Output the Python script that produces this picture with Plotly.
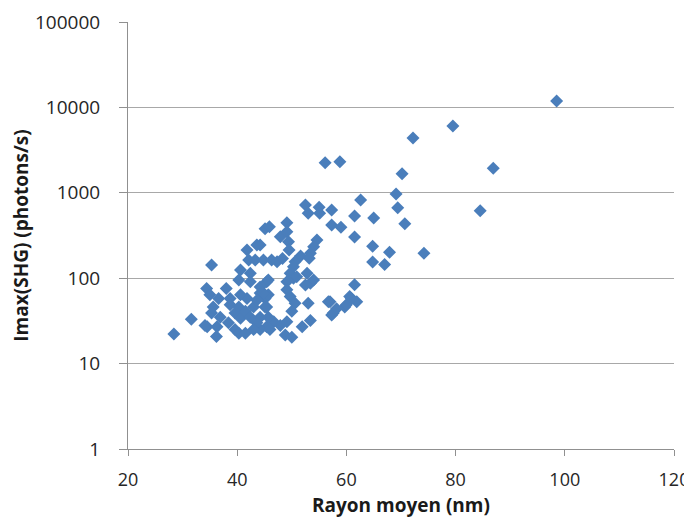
import plotly.graph_objects as go

# Rayon moyen (nm)
rayon = [
    98.5, 79.5, 86.9, 84.5, 72.2, 58.8, 56.1, 70.2, 62.6, 69.1,
    69.4, 57.3, 61.5, 65.0, 70.7, 57.3, 59.0, 61.5, 64.8, 67.9,
    74.2, 64.8, 67.0, 61.5, 61.9, 60.6, 59.7, 57.6, 57.0, 52.5,
    53.0, 55.0, 55.1, 45.1, 45.9, 49.1, 47.9, 49.1, 49.4, 49.5,
    54.6, 54.0, 53.4, 51.6, 53.2, 50.6, 50.3, 49.7, 50.3, 50.9,
    49.1, 52.8, 53.4, 54.0, 52.5, 49.1, 49.7, 50.6, 50.0, 53.0,
    56.7, 57.3, 58.2, 60.0, 60.9, 53.4, 51.9, 49.1, 48.8, 50.0,
    46.7, 45.4, 45.7, 44.2, 45.1, 45.7, 45.4, 44.2, 45.1, 44.2,
    44.8, 46.3, 47.3, 28.4, 31.6, 35.3, 36.2, 34.4, 38.0, 35.0,
    34.5, 35.3, 35.6, 36.6, 36.9, 38.7, 38.7, 38.4, 39.6, 40.3,
    39.6, 40.3, 41.5, 40.6, 41.5, 41.8, 40.6, 40.3, 40.6, 42.4,
    42.4, 41.8, 43.6, 42.1, 43.3, 45.7, 44.8, 44.2, 45.4, 44.2,
    43.6, 43.0, 46.0, 42.4, 43.0, 43.6, 36.3, 34.1, 47.9, 48.3,
]

# Imax(SHG) (photons/s)
imax = [
    11900, 6060, 1937, 617, 4385, 2312, 2250, 1675, 824, 968,
    669, 629, 535, 507, 435, 420, 394, 304, 236, 201,
    196, 155, 145, 84, 53, 61, 46, 39, 53, 719,
    575, 676, 575, 380, 400, 446, 306, 350, 268, 214,
    280, 234, 196, 182, 171, 156, 136, 114, 100, 104,
    91, 114, 87, 95, 83, 73, 61, 51, 41, 51,
    53, 37, 44, 49, 58, 32, 27, 31, 21.6, 20.3,
    31, 27, 35, 25, 58, 64, 91, 67, 46, 245,
    163, 163, 156, 22.2, 33, 143, 20.7, 76, 76, 64,
    27, 39, 46, 58, 35, 58, 49, 30, 39, 46,
    25, 22.6, 22.6, 34, 41, 58, 64, 95, 125, 114,
    91, 214, 245, 163, 163, 95, 67, 79, 46, 35,
    30, 25, 25, 35, 46, 55, 27, 28, 28, 170,
]

x_ticks = [20, 40, 60, 80, 100, 120]
y_ticks = [1, 10, 100, 1000, 10000, 100000]
y_labels = ["1", "10", "100", "1000", "10000", "100000"]

fig = go.Figure()
fig.add_trace(go.Scatter(
    x=rayon, y=imax, mode="markers",
    marker=dict(symbol="diamond", size=10, color="#4A7EBB",
                line=dict(width=0)),
    showlegend=False,
))

font_family = "Open Sans, Liberation Sans, sans-serif"
fig.update_layout(
    width=684, height=514,
    margin=dict(l=119.5, r=17.5, t=13.8, b=72.7, autoexpand=False),
    paper_bgcolor="white", plot_bgcolor="white",
    font=dict(family=font_family, size=19, color="#262626"),
)
fig.update_xaxes(
    range=[20, 120], tickvals=x_ticks, ticks="outside", ticklen=6,
    tickcolor="#909090", showline=True, linecolor="#909090", linewidth=1,
    ticklabelstandoff=8, automargin=False, ticklabeloverflow="allow",
    tickfont=dict(size=18),
    showgrid=False, zeroline=False,
    title=dict(text="<b>Rayon moyen (nm)</b>", font=dict(size=19, color="#1a1a1a"), standoff=9),
)
fig.update_yaxes(
    type="log", range=[0, 5], tickvals=y_ticks, ticktext=y_labels,
    ticks="outside", ticklen=8, tickcolor="#909090",
    ticklabelstandoff=15, automargin=False,
    showline=True, linecolor="#909090", linewidth=1,
    showgrid=True, gridcolor="#A8A8A8", gridwidth=1, zeroline=False,
    title=dict(text="<b>Imax(SHG) (photons/s)</b>", font=dict(size=19, color="#1a1a1a"), standoff=8),
)

fig.write_html("out.html")
